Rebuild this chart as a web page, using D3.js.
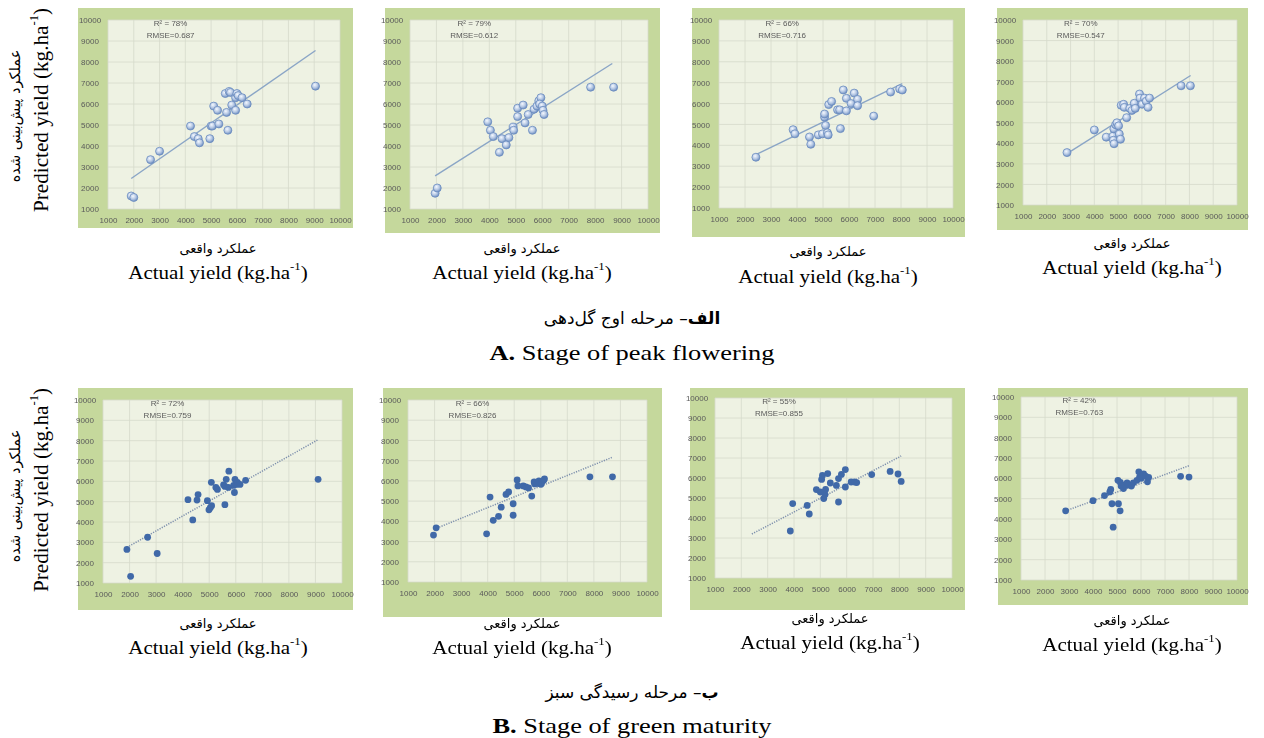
<!DOCTYPE html>
<html>
<head>
<meta charset="utf-8">
<script src="https://cdn.jsdelivr.net/npm/d3@7"></script>
<style>
  body { margin: 0; background: #ffffff; }
  svg { display: block; }
</style>
</head>
<body>
<svg id="fig" width="1264" height="738"></svg>
<script>
// ---------- data ----------
const axisTicks = [1000, 2000, 3000, 4000, 5000, 6000, 7000, 8000, 9000, 10000];

const r2Values   = ["78%", "79%", "66%", "70%", "72%", "66%", "55%", "42%"];
const rmseValues = ["0.687", "0.612", "0.716", "0.547", "0.759", "0.826", "0.855", "0.763"];

// A. stage of peak flowering
const peak1Actual    = [1900, 2000, 2650, 3000, 4200, 4350, 4500, 4550, 4950, 5000, 5050, 5100, 5250, 5300, 5600, 5550, 5650, 5700, 5750, 5800, 5950, 5950, 6000, 6050, 6200, 6400, 9050];
const peak1Predicted = [1620, 1550, 3350, 3750, 4950, 4450, 4350, 4150, 4350, 4950, 4950, 5900, 5700, 5050, 5600, 6500, 4750, 6600, 6550, 5950, 5700, 6300, 6500, 6400, 6300, 6000, 6850];
const peak1TrendX = [1900, 9050];
const peak1TrendY = [2450, 8550];

const peak2Actual    = [1950, 2030, 3940, 4040, 4150, 4380, 4480, 4640, 4740, 4900, 4920, 5070, 5070, 5280, 5350, 5470, 5630, 5690, 5800, 5870, 5950, 5900, 6000, 6030, 6070, 7830, 8700];
const peak2Predicted = [1750, 2000, 5150, 4750, 4450, 3700, 4350, 4050, 4400, 4900, 4750, 5800, 5400, 5950, 5100, 5500, 4750, 5750, 5900, 6150, 6300, 6000, 5900, 5700, 5500, 6800, 6800];
const peak2TrendX = [1950, 8650];
const peak2TrendY = [2580, 7930];

const peak3Actual    = [2420, 3850, 3920, 4480, 4530, 4820, 4980, 5060, 5060, 5100, 5170, 5200, 5220, 5330, 5560, 5640, 5670, 5780, 5900, 5900, 6080, 6200, 6330, 6330, 6950, 7600, 7950, 8050];
const peak3Predicted = [3430, 4750, 4550, 4400, 4050, 4500, 4550, 5350, 5500, 4950, 4600, 4500, 5950, 6100, 5700, 5700, 4800, 6650, 6250, 5650, 6000, 6500, 6200, 5900, 5400, 6550, 6700, 6650];
const peak3TrendX = [2420, 8050];
const peak3TrendY = [3550, 6950];

const peak4Actual    = [2850, 4000, 4500, 4780, 4800, 4830, 4820, 4900, 4950, 5020, 5050, 5100, 5130, 5230, 5260, 5360, 5490, 5580, 5680, 5720, 5900, 5920, 6010, 6110, 6180, 6260, 6320, 7650, 8040];
const peak4Predicted = [3550, 4650, 4300, 4350, 4150, 3980, 4700, 4900, 5000, 4850, 4450, 4200, 5850, 5900, 5750, 5250, 5700, 5600, 5950, 5700, 6400, 6200, 5900, 6200, 6050, 5750, 6200, 6800, 6800];
const peak4TrendX = [2850, 8050];
const peak4TrendY = [3500, 7300];

// B. stage of green maturity
const green1Actual    = [1900, 2040, 2680, 3040, 4200, 4380, 4540, 4580, 4930, 4990, 5040, 5080, 5090, 5250, 5310, 5540, 5590, 5590, 5640, 5740, 5720, 5920, 5950, 5970, 6020, 6060, 6160, 6370, 9100];
const green1Predicted = [2650, 1330, 3250, 2450, 5100, 4100, 5080, 5350, 5050, 4600, 4700, 5950, 4800, 5700, 5600, 5830, 5750, 4850, 6100, 6500, 5700, 5800, 5450, 6100, 5850, 5950, 5850, 6050, 6100];
const green1TrendX = [1900, 9100];
const green1TrendY = [2750, 8050];

const green2Actual    = [1960, 2060, 3960, 4090, 4210, 4410, 4510, 4690, 4790, 4960, 4960, 5110, 5140, 5340, 5440, 5540, 5660, 5750, 5770, 5910, 5930, 6010, 6040, 6110, 6140, 7850, 8700];
const green2Predicted = [3320, 3680, 3380, 5200, 4050, 4250, 4700, 5330, 5450, 4300, 4870, 6050, 5750, 5750, 5700, 5650, 5250, 5950, 5850, 5870, 6000, 5830, 5950, 6030, 6100, 6200, 6200];
const green2TrendX = [2000, 8700];
const green2TrendY = [3620, 7170];

const green3Actual    = [3860, 3950, 4500, 4580, 4850, 5000, 5050, 5080, 5130, 5180, 5200, 5280, 5380, 5610, 5690, 5690, 5800, 5950, 5950, 6170, 6300, 6380, 6950, 7650, 7950, 8070];
const green3Predicted = [3350, 4720, 4630, 4200, 5420, 5300, 5930, 6130, 4970, 5170, 5430, 6220, 5750, 5630, 5970, 4800, 6180, 6420, 5550, 5800, 5800, 5770, 6170, 6330, 6200, 5830];
const green3TrendX = [2400, 8070];
const green3TrendY = [3200, 7100];

const green4Actual    = [2860, 4000, 4480, 4700, 4740, 4790, 4840, 5040, 5060, 5130, 5140, 5170, 5270, 5320, 5420, 5470, 5600, 5680, 5830, 5910, 5940, 6010, 6110, 6190, 6270, 6320, 7650, 8000];
const green4Predicted = [4400, 4900, 5150, 5330, 5450, 4750, 3600, 5900, 4750, 4400, 5800, 5620, 5500, 5670, 5780, 5670, 5620, 5780, 5900, 6320, 6060, 6000, 6220, 6110, 5830, 6050, 6100, 6060];
const green4TrendX = [2860, 8000];
const green4TrendY = [4400, 6620];

// ---------- text ----------
const xLabelFa = "عملکرد واقعی";
const xLabelEn = "Actual yield (kg.ha";
const yLabelFa = "عملکرد پیش‌بینی شده";
const yLabelEn = "Predicted yield (kg.ha";
const stageFa = [["الف", "– مرحله اوج گل‌دهی"], ["ب", "– مرحله رسیدگی سبز"]];
const stageEn = [["A.", " Stage of peak flowering"], ["B.", " Stage of green maturity"]];

// ---------- layout ----------
const series = [
  { x: peak1Actual,  y: peak1Predicted,  tx: peak1TrendX,  ty: peak1TrendY,  row: 0 },
  { x: peak2Actual,  y: peak2Predicted,  tx: peak2TrendX,  ty: peak2TrendY,  row: 0 },
  { x: peak3Actual,  y: peak3Predicted,  tx: peak3TrendX,  ty: peak3TrendY,  row: 0 },
  { x: peak4Actual,  y: peak4Predicted,  tx: peak4TrendX,  ty: peak4TrendY,  row: 0 },
  { x: green1Actual, y: green1Predicted, tx: green1TrendX, ty: green1TrendY, row: 1 },
  { x: green2Actual, y: green2Predicted, tx: green2TrendX, ty: green2TrendY, row: 1 },
  { x: green3Actual, y: green3Predicted, tx: green3TrendX, ty: green3TrendY, row: 1 },
  { x: green4Actual, y: green4Predicted, tx: green4TrendX, ty: green4TrendY, row: 1 }
];

// chart frame [x, y, w, h], plot range [left, right, top, bottom], caption [cx, faY, enY]
const frames = [
  { box: [78, 8, 275, 220],   plot: [108, 340, 20, 209],   cap: [218, 248, 273] },
  { box: [385, 8, 275, 225],  plot: [410, 648, 20, 209],   cap: [522, 248, 273] },
  { box: [692, 8, 273, 229],  plot: [719, 953, 20, 208],   cap: [828, 251, 277] },
  { box: [997, 8, 251, 222],  plot: [1023, 1237, 20, 205], cap: [1132, 243, 268] },
  { box: [78, 388, 275, 222], plot: [103, 342, 400, 583],  cap: [218, 623, 648] },
  { box: [383, 388, 279, 229],plot: [408, 647, 400, 582],  cap: [522, 623, 648] },
  { box: [690, 388, 275, 222],plot: [715, 952, 398, 578],  cap: [830, 618, 643] },
  { box: [998, 388, 250, 217],plot: [1021, 1237, 397, 580],cap: [1132, 620, 645] }
];

const svg = d3.select("#fig");
const defs = svg.append("defs");

// glossy bubble marker used on the flowering-stage charts
const grad = defs.append("radialGradient").attr("id", "bubble")
  .attr("cx", "40%").attr("cy", "35%").attr("r", "65%");
grad.append("stop").attr("offset", "0%").attr("stop-color", "#f4f8ff");
grad.append("stop").attr("offset", "55%").attr("stop-color", "#b7c9e4");
grad.append("stop").attr("offset", "100%").attr("stop-color", "#6f8fc2");

defs.append("filter").attr("id", "soft")
  .append("feGaussianBlur").attr("stdDeviation", 0.35);

const tickFont = "'Liberation Sans Narrow', 'Liberation Sans', Arial, sans-serif";
const serif = "'Liberation Serif', 'Times New Roman', serif";
const faFont = "'DejaVu Sans', sans-serif";

frames.forEach((f, i) => {
  const s = series[i];
  const [bx, by, bw, bh] = f.box;
  const [pl, pr, pt, pb] = f.plot;

  const g = svg.append("g").attr("filter", "url(#soft)");

  g.append("rect").attr("x", bx).attr("y", by).attr("width", bw).attr("height", bh)
    .attr("fill", "#c5d89c");

  const x = d3.scaleLinear().domain([1000, 10000]).range([pl, pr]);
  const y = d3.scaleLinear().domain([1000, 10000]).range([pb, pt]);

  g.append("rect").attr("x", pl).attr("y", pt).attr("width", pr - pl).attr("height", pb - pt)
    .attr("fill", "#eef2e3");

  // grid
  g.append("g").selectAll("line").data(axisTicks).join("line")
    .attr("x1", d => x(d)).attr("x2", d => x(d)).attr("y1", pt).attr("y2", pb)
    .attr("stroke", "#d6dacb").attr("stroke-width", 0.8);
  g.append("g").selectAll("line").data(axisTicks).join("line")
    .attr("x1", pl).attr("x2", pr).attr("y1", d => y(d)).attr("y2", d => y(d))
    .attr("stroke", "#d6dacb").attr("stroke-width", 0.8);

  // axes
  const xa = g.append("g").attr("transform", `translate(0,${pb})`)
    .call(d3.axisBottom(x).tickValues(axisTicks).tickSize(0).tickPadding(8).tickFormat(d3.format("d")));
  const ya = g.append("g").attr("transform", `translate(${pl},0)`)
    .call(d3.axisLeft(y).tickValues(axisTicks).tickSize(0).tickPadding(0).tickFormat(d3.format("d")));
  [xa, ya].forEach(a => {
    a.select(".domain").remove();
    a.selectAll("text").attr("font-family", tickFont).attr("font-size", 8).attr("fill", "#5a5a5a");
  });
  ya.selectAll("text").attr("text-anchor", "middle").attr("x", -18).attr("dy", "0.32em");

  // fit statistics
  const sx = pl + (pr - pl) * 0.27;
  g.append("text").attr("x", sx).attr("y", pt + 6).attr("text-anchor", "middle")
    .attr("font-family", tickFont).attr("font-size", 8).attr("fill", "#5a5a5a")
    .text("R² = " + r2Values[i]);
  g.append("text").attr("x", sx).attr("y", pt + 18).attr("text-anchor", "middle")
    .attr("font-family", tickFont).attr("font-size", 8).attr("fill", "#5a5a5a")
    .text("RMSE=" + rmseValues[i]);

  // regression line
  const trend = s.tx.map((v, k) => [v, s.ty[k]]);
  const line = d3.line().x(d => x(d[0])).y(d => y(d[1]));
  const tl = g.append("path").datum(trend).attr("d", line).attr("fill", "none");
  if (s.row === 0) {
    tl.attr("stroke", "#8aa5c6").attr("stroke-width", 1.4);
  } else {
    tl.attr("stroke", "#7e90ad").attr("stroke-width", 1.5).attr("stroke-dasharray", "1.2,1.3");
  }

  // observations
  const pts = s.x.map((v, k) => [v, s.y[k]]);
  const c = g.append("g").selectAll("circle").data(pts).join("circle")
    .attr("cx", d => x(d[0])).attr("cy", d => y(d[1]));
  if (s.row === 0) {
    c.attr("r", 4).attr("fill", "url(#bubble)").attr("stroke", "#6a8bbf").attr("stroke-width", 0.8);
  } else {
    c.attr("r", 3.4).attr("fill", "#4169a8");
  }

  // captions under each chart
  const [cx, fy, ey] = f.cap;
  svg.append("text").attr("x", cx).attr("y", fy).attr("text-anchor", "middle")
    .attr("dominant-baseline", "central").attr("direction", "rtl")
    .attr("font-family", faFont).attr("font-size", 13).attr("fill", "#000")
    .text(xLabelFa);
  const en = svg.append("text").attr("transform", `translate(${cx},${ey}) scale(1.17,1)`)
    .attr("text-anchor", "middle").attr("dominant-baseline", "central")
    .attr("font-family", serif).attr("font-size", 18).attr("fill", "#000");
  en.append("tspan").text(xLabelEn);
  en.append("tspan").attr("baseline-shift", "super").attr("font-size", 11).text("-1");
  en.append("tspan").text(")");
});

// vertical axis titles, one per row
[110, 490].forEach(cy => {
  svg.append("text").attr("transform", `translate(15,${cy + 6}) rotate(-90)`)
    .attr("text-anchor", "middle").attr("dominant-baseline", "central").attr("direction", "rtl")
    .attr("font-family", faFont).attr("font-size", 14.5).attr("fill", "#000")
    .text(yLabelFa);
  const t = svg.append("text").attr("transform", `translate(41,${cy}) rotate(-90) scale(1.06,1)`)
    .attr("text-anchor", "middle").attr("dominant-baseline", "central")
    .attr("font-family", serif).attr("font-size", 20).attr("fill", "#000");
  t.append("tspan").text(yLabelEn);
  t.append("tspan").attr("baseline-shift", "super").attr("font-size", 12).text("-1");
  t.append("tspan").text(")");
});

// stage titles
[[318, 352], [692, 725]].forEach(([fy, ey], r) => {
  const fa = svg.append("text").attr("x", 632).attr("y", fy).attr("text-anchor", "middle")
    .attr("dominant-baseline", "central").attr("direction", "rtl")
    .attr("font-family", faFont).attr("font-size", 17).attr("fill", "#000");
  fa.append("tspan").attr("font-weight", "bold").text(stageFa[r][0]);
  fa.append("tspan").text(stageFa[r][1]);
  const en = svg.append("text").attr("transform", `translate(632,${ey}) scale(1.2,1)`)
    .attr("text-anchor", "middle").attr("dominant-baseline", "central")
    .attr("font-family", serif).attr("font-size", 22).attr("fill", "#000");
  en.append("tspan").attr("font-weight", "bold").text(stageEn[r][0]);
  en.append("tspan").text(stageEn[r][1]);
});
</script>
</body>
</html>
